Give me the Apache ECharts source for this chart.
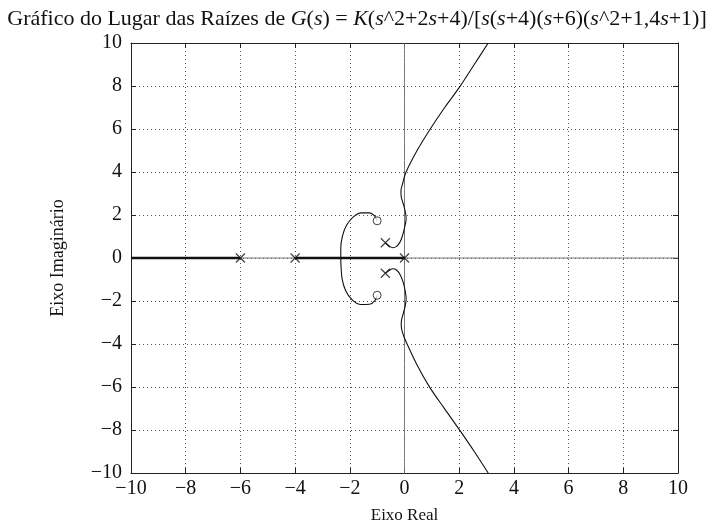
<!DOCTYPE html>
<html>
<head>
<meta charset="utf-8">
<script src="https://cdn.jsdelivr.net/npm/echarts@6/dist/echarts.min.js"></script>
<style>
  html, body { margin: 0; padding: 0; background: #fff; }
  #chart { width: 714px; height: 529px; }
</style>
</head>
<body>
<div id="chart"></div>
<script>
// Axis range and tick positions (both axes share them)
const tickValues = [-10, -8, -6, -4, -2, 0, 2, 4, 6, 8, 10];

// Open-loop poles (x) and zeros (o)
const poles = [[0, 0], [-4, 0], [-6, 0], [-0.7, 0.71], [-0.7, -0.71]];
const zeros = [[-1, 1.73], [-1, -1.73]];

// Root-locus segments lying on the real axis
const realLocusLeft = [[-10, 0], [-6, 0]];
const realLocusMid = [[-4, 0], [0, 0]];

// Branches leaving the real axis near -2.33 and ending on the zeros
const arcUpper = [[-2.33, 0], [-2.33, 0.44], [-2.27, 1.02], [-2.12, 1.52], [-1.88, 1.9], [-1.58, 2.1], [-1.28, 2.1], [-1.08, 1.94], [-1, 1.73]];
const arcLower = [[-2.33, 0], [-2.32, -0.4], [-2.28, -0.98], [-2.15, -1.52], [-1.92, -1.94], [-1.62, -2.16], [-1.28, -2.15], [-1.08, -1.98], [-1, -1.73]];

// Branches leaving the complex poles toward the ±60° asymptotes
const branchUpper = [[-0.7, 0.71], [-0.56, 0.56], [-0.43, 0.48], [-0.29, 0.54], [-0.16, 0.75], [-0.07, 1.05], [0.0, 1.4], [0.06, 1.82], [0.03, 2.14], [-0.04, 2.5], [-0.12, 2.85], [-0.13, 3.1], [-0.06, 3.5], [0.05, 3.98], [0.46, 5.0], [0.93, 5.98], [1.47, 7.0], [2.03, 7.98], [2.55, 9.0], [3.06, 10]];
const branchLower = [[-0.7, -0.71], [-0.56, -0.58], [-0.43, -0.5], [-0.29, -0.56], [-0.15, -0.8], [-0.05, -1.12], [0.02, -1.5], [0.06, -1.9], [0.03, -2.2], [-0.04, -2.56], [-0.11, -2.9], [-0.12, -3.15], [-0.05, -3.55], [0.04, -3.85], [0.45, -4.95], [0.93, -6.03], [1.47, -7.02], [2.03, -8.03], [2.55, -9.0], [3.06, -10]];

// Thin reference lines through the origin
const realAxisLine = [[-10, 0], [10, 0]];
const imagAxisLine = [[0, -10], [0, 10]];

const minusFmt = v => String(v).replace('-', '\u2212');
const serif = 'Liberation Serif';

const baseAxis = {
  type: 'value',
  min: tickValues[0], max: tickValues[tickValues.length - 1],
  interval: tickValues[1] - tickValues[0],
  axisLine: { show: true, onZero: false, lineStyle: { color: '#222', width: 1 } },
  axisTick: { show: true, inside: true, length: 5, lineStyle: { color: '#222' } },
  splitLine: { show: false }
};

const chart = echarts.init(document.getElementById('chart'), null, { renderer: 'canvas' });

function lineSeries(data, width, color) {
  return {
    type: 'line', data: data, xAxisIndex: 0, yAxisIndex: 0,
    showSymbol: false, symbol: 'none', smooth: 0.35, silent: true,
    lineStyle: { color: color || '#111', width: width }, z: 3
  };
}

chart.setOption({
  animation: false,
  backgroundColor: '#fff',
  title: {
    left: 'center', top: 3,
    text: '{n|Gráfico do Lugar das Raízes de }{i|G}{n|(}{i|s}{n|) = }{i|K}{n|(}{i|s}{n|^2+2}{i|s}{n|+4)/[}{i|s}{n|(}{i|s}{n|+4)(}{i|s}{n|+6)(}{i|s}{n|^2+1,4}{i|s}{n|+1)]}',
    textStyle: {
      fontWeight: 'normal',
      rich: {
        n: { fontFamily: serif, fontSize: 22, fontWeight: 'normal', color: '#111' },
        i: { fontFamily: serif, fontSize: 22, fontWeight: 'normal', fontStyle: 'italic', color: '#111' }
      }
    }
  },
  grid: { left: 131, right: 36, top: 43, bottom: 53 },
  xAxis: [
    Object.assign({}, baseAxis, {
      position: 'bottom',
      name: 'Eixo Real', nameLocation: 'middle', nameGap: 34,
      nameTextStyle: { fontFamily: serif, fontSize: 17, color: '#111' },
      axisLabel: { formatter: minusFmt, fontFamily: serif, fontSize: 20, color: '#111', margin: 6 },
      splitLine: { show: true, lineStyle: { color: '#555', width: 1, type: [1, 3] } }
    }),
    Object.assign({}, baseAxis, { position: 'top', axisLabel: { show: false } })
  ],
  yAxis: [
    Object.assign({}, baseAxis, {
      position: 'left',
      name: 'Eixo Imaginário', nameLocation: 'middle', nameGap: 64, nameRotate: 90,
      nameTextStyle: { fontFamily: serif, fontSize: 18, color: '#111' },
      axisLabel: { formatter: minusFmt, fontFamily: serif, fontSize: 20, color: '#111', margin: 9 },
      splitLine: { show: true, lineStyle: { color: '#555', width: 1, type: [1, 3] } }
    }),
    Object.assign({}, baseAxis, { position: 'right', axisLabel: { show: false } })
  ],
  series: [
    lineSeries(realAxisLine, 1, '#777'),
    lineSeries(imagAxisLine, 1, '#777'),
    lineSeries(realLocusLeft, 2.6, '#111'),
    lineSeries(realLocusMid, 2.6, '#111'),
    lineSeries(arcUpper, 1.1),
    lineSeries(arcLower, 1.1),
    lineSeries(branchUpper, 1.1),
    lineSeries(branchLower, 1.1),
    {
      type: 'scatter', data: poles, silent: true, z: 5,
      symbol: 'path://M0,0L10,10M10,0L0,10', symbolSize: 9,
      itemStyle: { color: 'none', borderColor: '#111', borderWidth: 1.2 }
    },
    {
      type: 'scatter', data: zeros, silent: true, z: 5,
      symbol: 'circle', symbolSize: 8,
      itemStyle: { color: '#fff', borderColor: '#111', borderWidth: 1 }
    }
  ]
});
</script>
</body>
</html>
